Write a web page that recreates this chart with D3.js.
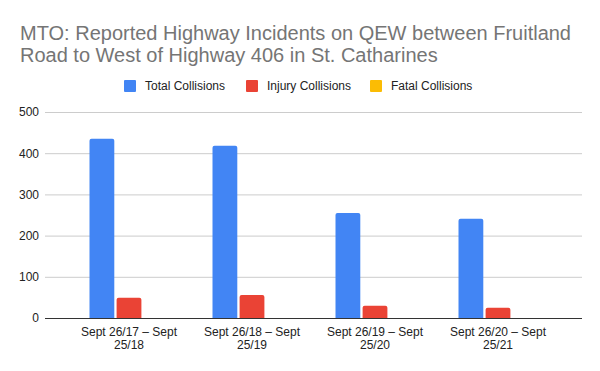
<!DOCTYPE html>
<html>
<head>
<meta charset="utf-8">
<script src="https://cdn.jsdelivr.net/npm/d3@7"></script>
<style>
  html, body { margin: 0; padding: 0; background: #fff; }
  svg { display: block; font-family: "Liberation Sans", Arial, sans-serif; }
</style>
</head>
<body>
<svg id="chart" width="600" height="371"></svg>
<script>
const titleText = "MTO: Reported Highway Incidents on QEW between Fruitland Road to West of Highway 406 in St. Catharines";
const categories = ["Sept 26/17 – Sept 25/18", "Sept 26/18 – Sept 25/19", "Sept 26/19 – Sept 25/20", "Sept 26/20 – Sept 25/21"];
const seriesNames = ["Total Collisions", "Injury Collisions", "Fatal Collisions"];
const totalCollisions = [435, 418, 255, 241];
const injuryCollisions = [49, 56, 30, 25];
const fatalCollisions = [0, 0, 0, 0];
const seriesColors = ["#4285F4", "#EA4335", "#FBBC04"];
const yTicks = [0, 100, 200, 300, 400, 500];

const seriesValues = [totalCollisions, injuryCollisions, fatalCollisions];
const svg = d3.select("#chart");

const plotLeft = 45, plotRight = 582, plotTop = 112, plotBottom = 318;

function wrapLines(textSel, str, maxW) {
  const words = str.split(" ");
  const lines = [];
  let cur = [];
  const t = textSel.append("tspan");
  for (const w of words) {
    const trial = cur.concat([w]).join(" ");
    t.text(trial);
    if (t.node().getComputedTextLength() > maxW && cur.length) {
      lines.push(cur.join(" "));
      cur = [w];
    } else cur.push(w);
  }
  if (cur.length) lines.push(cur.join(" "));
  t.remove();
  return lines;
}

// Title
const title = svg.append("text")
  .attr("x", 20).attr("y", 39.5)
  .attr("font-size", 20).attr("fill", "#757575");
const tLines = wrapLines(title, titleText, 560);
tLines.forEach((l, i) => title.append("tspan").attr("x", 20).attr("y", 39.5 + i * 22.5).text(l));

// Legend
const legendX = [124, 246, 370];
const legend = svg.append("g");
seriesNames.forEach((n, i) => {
  legend.append("rect").attr("x", legendX[i]).attr("y", 80).attr("width", 12).attr("height", 12)
    .attr("rx", 1).attr("fill", seriesColors[i]);
  legend.append("text").attr("x", legendX[i] + 21).attr("y", 90)
    .attr("font-size", 12).attr("fill", "#222").text(n);
});

// Scales
const y = d3.scaleLinear().domain([0, 500]).range([plotBottom, plotTop]);
const step = 123;
const x0 = d3.scaleBand().domain(categories).range([plotLeft, plotRight])
  .paddingInner(0).paddingOuter(((plotRight - plotLeft) - step * categories.length) / 2 / step);
const x1 = d3.scaleBand().domain(seriesNames).range([22, x0.bandwidth() - 22]).paddingInner(0.085);

// Gridlines + y labels
const yAxis = d3.axisLeft(y).tickValues(yTicks).tickSize(-(plotRight - plotLeft)).tickPadding(6);
const gy = svg.append("g").attr("transform", `translate(${plotLeft},0)`).call(yAxis);
gy.select(".domain").remove();
gy.selectAll(".tick line").attr("stroke", "#cccccc").attr("stroke-width", 1);
gy.selectAll(".tick text").attr("font-size", 12).attr("fill", "#222")
  .attr("font-family", "Liberation Sans, Arial, sans-serif").attr("x", -6);

// Bars
function barPath(x, yTop, w, h, r) {
  if (h <= 0) return "";
  r = Math.min(r, h, w / 2);
  return `M${x},${yTop + h}V${yTop + r}Q${x},${yTop} ${x + r},${yTop}H${x + w - r}Q${x + w},${yTop} ${x + w},${yTop + r}V${yTop + h}Z`;
}
const groups = svg.append("g").selectAll("g").data(categories).join("g")
  .attr("transform", d => `translate(${x0(d)},0)`);
groups.selectAll("path").data((d, ci) => seriesNames.map((s, si) => ({ s, si, v: seriesValues[si][ci] })))
  .join("path")
  .attr("d", d => barPath(x1(d.s), y(d.v), x1.bandwidth(), y(0) - y(d.v), 2))
  .attr("fill", d => seriesColors[d.si]);

// X axis
const xAxis = d3.axisBottom(x0).tickSize(0).tickPadding(0);
const gx = svg.append("g").attr("transform", `translate(0,${plotBottom})`).call(xAxis);
gx.select(".domain").attr("d", `M${plotLeft},0.5H${plotRight}`).attr("stroke", "#333").attr("stroke-width", 1);
gx.selectAll(".tick text").each(function(d) {
  const t = d3.select(this);
  t.text(null).attr("font-size", 12).attr("fill", "#222")
    .attr("font-family", "Liberation Sans, Arial, sans-serif").attr("dy", null).attr("y", 0);
  const lines = wrapLines(t, d, 110);
  lines.forEach((l, i) => t.append("tspan").attr("x", 0).attr("y", 17.5 + i * 13.5).text(l));
});
</script>
</body>
</html>
